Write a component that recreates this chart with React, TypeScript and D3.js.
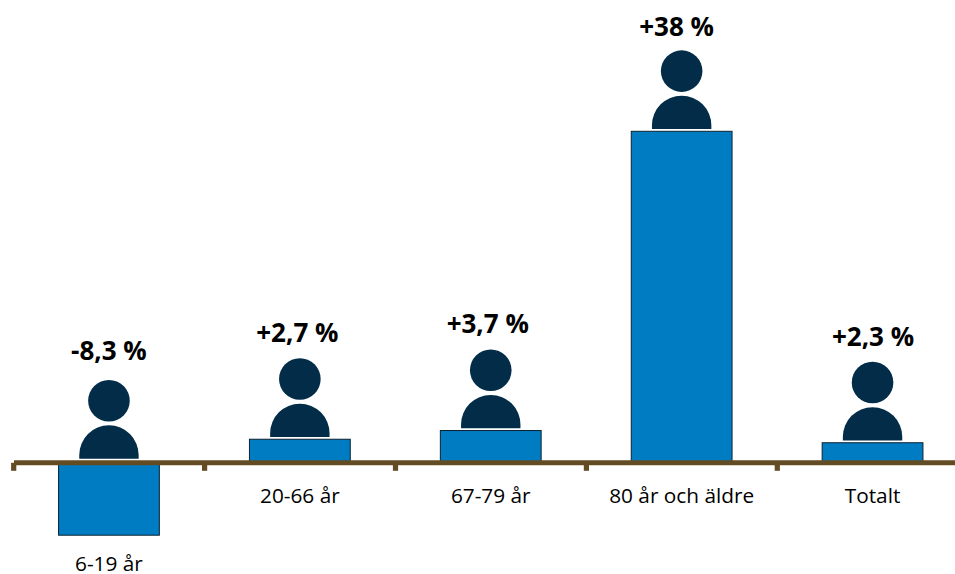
import React from "react";
import * as d3 from "d3";

const categories = ["6-19 år", "20-66 år", "67-79 år", "80 år och äldre", "Totalt"];
const changes = [-8.3, 2.7, 3.7, 38, 2.3];
const changeLabels = ["-8,3 %", "+2,7 %", "+3,7 %", "+38 %", "+2,3 %"];

const WIDTH = 955;
const HEIGHT = 574;
const FONT = "'Open Sans', sans-serif";
const BAR = "#007cc3";
const AXIS = "#634b24";
const PERSON = "#022c47";

// Hand placement of the percentage captions relative to each column's figure.
const captionShiftX = [0, -2.5, -3, -5, 0.5];
const captionGapY = [108.5, 105, 105, 103, 105];

const x = d3.scaleBand<string>().domain(categories).range([13.5, 968]).paddingInner(0).paddingOuter(0);
const y = d3.scaleLinear().domain([0, 38]).range([462.8, 131.3]);

// A head and a round-shouldered torso standing on the baseline `base`.
function Person({ cx, base }: { cx: number; base: number }) {
  const path = d3.path();
  path.moveTo(cx - 29.7, base);
  path.lineTo(cx - 29.7, base - 3.7);
  path.arc(cx, base - 3.7, 29.7, Math.PI, 2 * Math.PI);
  path.lineTo(cx + 29.7, base);
  path.closePath();
  return (
    <g fill={PERSON}>
      <circle cx={cx} cy={base - 58} r={20.8} />
      <path d={path.toString()} />
    </g>
  );
}

export default function App() {
  const band = x.bandwidth();
  return (
    <svg
      width={WIDTH}
      height={HEIGHT}
      viewBox={`0 0 ${WIDTH} ${HEIGHT}`}
      style={{ position: "absolute", left: 0, top: 0, background: "#fff" }}
    >
      {categories.map((c, i) => {
        const cx = (x(c) as number) + band / 2;
        const v = changes[i];
        const top = y(Math.max(v, 0));
        const bottom = y(Math.min(v, 0));
        const base = v > 0 ? top - 2.2 : y(0) - 4.1;
        const labelY = v < 0 ? bottom + 28 : y(0) + 32;
        return (
          <g key={c}>
            <rect
              x={cx - 50.4}
              y={top}
              width={100.8}
              height={bottom - top}
              fill={BAR}
              stroke="#0d2230"
              strokeWidth={1}
            />
            <Person cx={cx} base={base} />
            <text
              x={cx + captionShiftX[i]}
              y={base - captionGapY[i]}
              textAnchor="middle"
              dominantBaseline="central"
              fontFamily={FONT}
              fontWeight={700}
              fontSize={26}
              fill="#000"
            >
              {changeLabels[i]}
            </text>
            <text
              x={cx}
              y={labelY}
              textAnchor="middle"
              dominantBaseline="central"
              fontFamily={FONT}
              fontSize={20.8}
              fill="#000"
            >
              {c}
            </text>
          </g>
        );
      })}
      <line x1={14} x2={WIDTH} y1={y(0)} y2={y(0)} stroke={AXIS} strokeWidth={5} />
      {categories.map((c) => (
        <rect key={c} x={(x(c) as number) - 2.4} y={y(0)} width={5.2} height={8} fill={AXIS} />
      ))}
    </svg>
  );
}
